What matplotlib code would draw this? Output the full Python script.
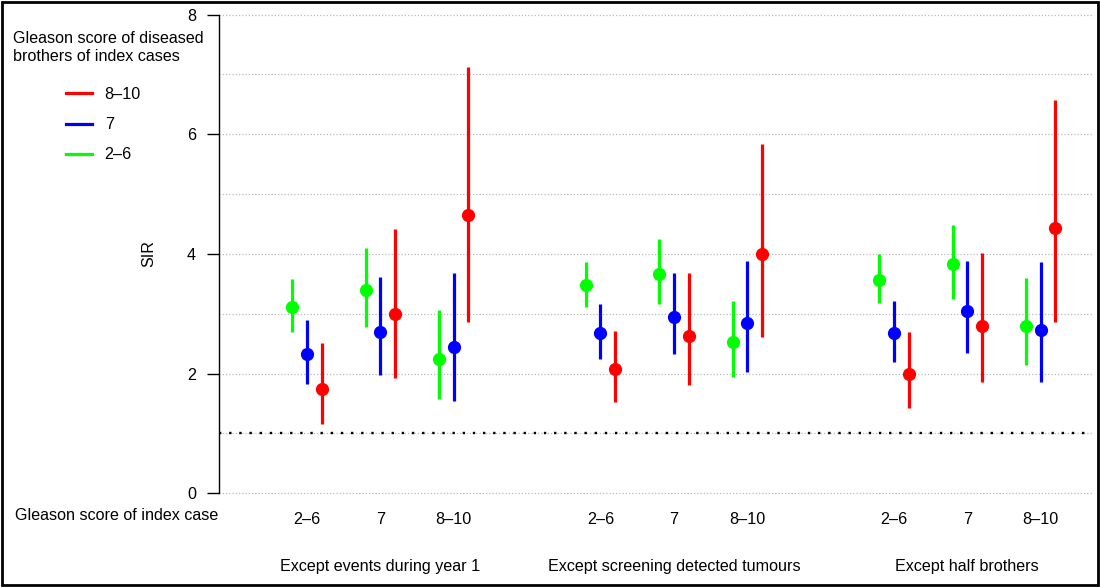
import matplotlib
matplotlib.use("Agg")
import matplotlib.pyplot as plt
from matplotlib.lines import Line2D
from matplotlib.patches import Rectangle
import matplotlib.transforms as mtransforms

plt.rcParams['font.family'] = ['Liberation Sans', 'DejaVu Sans']

# x positions of the index-case categories (3 per sensitivity analysis)
positions = [1, 2, 3, 5, 6, 7, 9, 10, 11]
index_labels = ["2–6", "7", "8–10"] * 3
groups = ["Except events during year 1", "Except screening detected tumours",
          "Except half brothers"]
group_centers = [2, 6, 10]

# SIR and 95% CI by Gleason score of diseased brothers
sir_26 = [3.12, 3.40, 2.24, 3.48, 3.67, 2.53, 3.57, 3.83, 2.80]
lo_26 = [2.69, 2.78, 1.58, 3.12, 3.16, 1.95, 3.18, 3.25, 2.14]
hi_26 = [3.58, 4.10, 3.06, 3.87, 4.25, 3.22, 4.00, 4.48, 3.60]

sir_7 = [2.32, 2.70, 2.45, 2.68, 2.94, 2.85, 2.68, 3.05, 2.73]
lo_7 = [1.83, 1.98, 1.54, 2.24, 2.32, 2.03, 2.20, 2.34, 1.86]
hi_7 = [2.90, 3.61, 3.69, 3.16, 3.68, 3.89, 3.21, 3.89, 3.87]

sir_810 = [1.75, 2.99, 4.65, 2.07, 2.63, 4.00, 1.99, 2.80, 4.44]
lo_810 = [1.16, 1.92, 2.86, 1.53, 1.81, 2.62, 1.42, 1.86, 2.86]
hi_810 = [2.52, 4.42, 7.13, 2.71, 3.69, 5.83, 2.69, 4.02, 6.57]

series = [
    ("2–6", "#00FF00", -0.2, sir_26, lo_26, hi_26),
    ("7", "#0000FF", 0.0, sir_7, lo_7, hi_7),
    ("8–10", "#FF0000", 0.2, sir_810, lo_810, hi_810),
]

fs = 11.6

fig = plt.figure(figsize=(11, 5.87), dpi=100)
ax = fig.add_axes([219 / 1100, (587 - 499.3) / 587, (1092 - 219) / 1100, (499.3 - 8.6) / 587])
ax.set_xlim(-0.2, 11.7)
ax.set_ylim(-0.1, 8.1)

# grid
for yv in range(0, 9):
    ax.axhline(yv, color="#BBBBBB", lw=0.9, ls=(0, (1, 1.6)), zorder=0)
ax.axhline(1, color="black", lw=1.7, ls=(0, (1, 3.3)), zorder=1)

handles = {}
for name, col, off, est, lo, hi in series:
    xs = [p + off for p in positions]
    ax.vlines(xs, lo, hi, color=col, lw=2.3, zorder=2)
    ax.plot(xs, est, "o", color=col, ms=8.5, zorder=3)
    handles[name] = Line2D([], [], color=col, lw=2.3)

for s in ["top", "right", "bottom"]:
    ax.spines[s].set_visible(False)
ax.spines["left"].set_bounds(0, 8)
ax.spines["left"].set_linewidth(1.0)
ax.set_yticks([0, 2, 4, 6, 8])
ax.tick_params(axis="y", length=8.5, width=1.0, labelsize=fs, pad=8)
ax.set_xticks(positions)
ax.set_xticklabels(index_labels, fontsize=fs)
ax.tick_params(axis="x", length=0, pad=9)
ax.set_ylabel("SIR", fontsize=fs, labelpad=22)

trans = mtransforms.blended_transform_factory(ax.transData, ax.transAxes)
for g, c in zip(groups, group_centers):
    ax.text(c, -0.136, g, transform=trans, ha="center", va="center", fontsize=fs)

fig.text(15 / 1100, 1 - 516 / 587, "Gleason score of index case", ha="left",
         va="center", fontsize=fs)
fig.text(13 / 1100, 1 - 47.5 / 587,
         "Gleason score of diseased\nbrothers of index cases",
         ha="left", va="center", fontsize=fs, linespacing=1.22)

order = ["8–10", "7", "2–6"]
fig.legend([handles[k] for k in order], order, loc="upper left",
           bbox_to_anchor=(58 / 1100, 1 - 79 / 587), frameon=False, fontsize=fs,
           handlelength=1.6, handletextpad=0.8, labelspacing=0.94, borderpad=0)

fig.add_artist(Rectangle((0.002, 0.003), 0.996, 0.994, transform=fig.transFigure,
                         fill=False, edgecolor="black", lw=2))

fig.savefig("out.png", dpi=100)
